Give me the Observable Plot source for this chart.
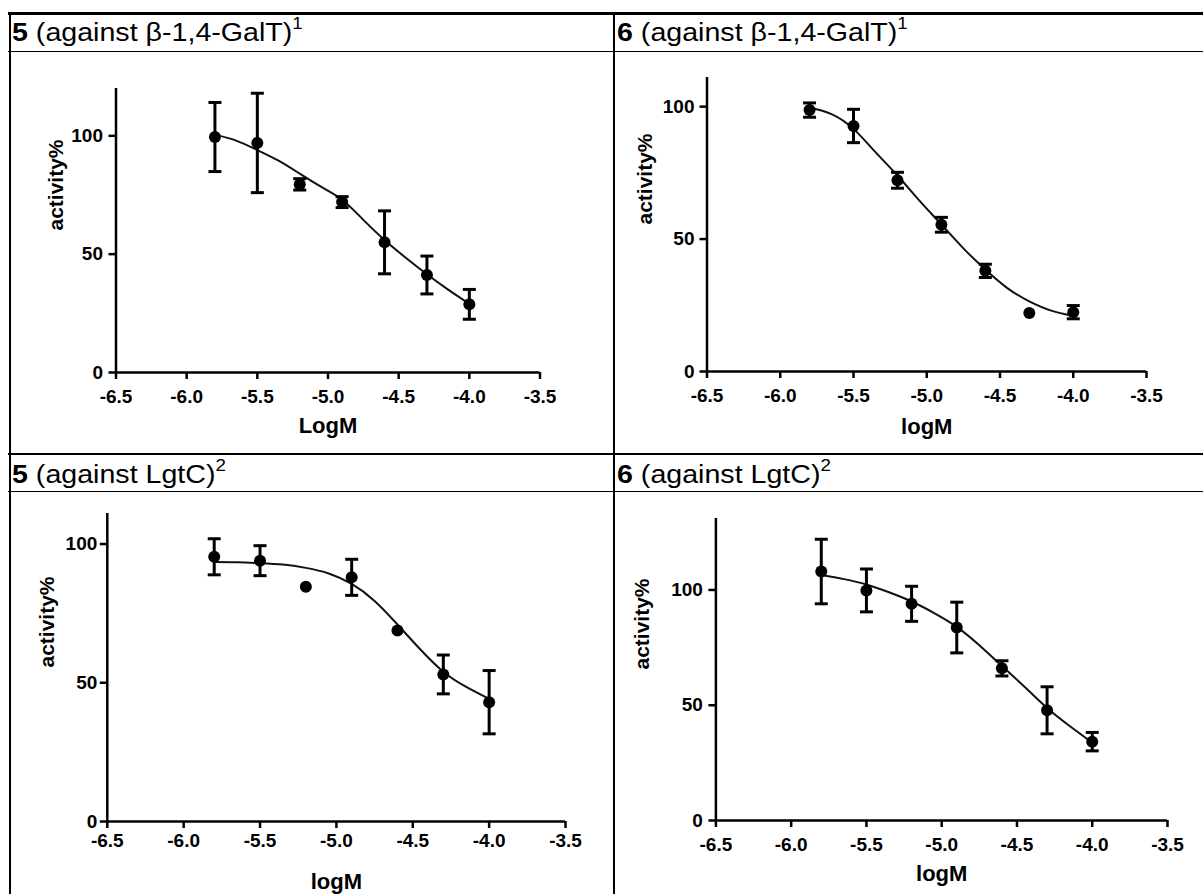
<!DOCTYPE html>
<html><head><meta charset="utf-8">
<script src="https://cdn.jsdelivr.net/npm/d3@7"></script>
<script src="https://cdn.jsdelivr.net/npm/@observablehq/plot@0.6"></script>
<style>
html,body{margin:0;padding:0;background:#fff;}
#page{position:relative;width:1203px;height:894px;overflow:hidden;background:#fff;font-family:"Liberation Sans",Arial,sans-serif;color:#000;}
.ln{position:absolute;background:#000;}
.title{position:absolute;font-size:26px;line-height:26px;white-space:nowrap;transform:scaleX(1.1);transform-origin:0 0;}
.title b{font-weight:bold;}
.title sup{font-size:17px;line-height:0;vertical-align:baseline;position:relative;top:-12px;}
.chart{position:absolute;}
</style></head><body><div id="page"></div>
<script>
// ---- data ----
const xTicks = [-6.5, -6.0, -5.5, -5.0, -4.5, -4.0, -3.5];
const yTicks = [0, 50, 100];
const logM = [-5.8, -5.5, -5.2, -4.9, -4.6, -4.3, -4.0];
const fitLogM = [-5.8, -5.65, -5.5, -5.35, -5.2, -5.05, -4.9, -4.75, -4.6, -4.45, -4.3, -4.15, -4.0];

const mean5GalT = [99.5, 97, 79.5, 72, 55, 41.2, 28.8];
const sd5GalT   = [14.6, 21, 2.4, 2.3, 13.3, 8, 6.3];
const fit5GalT  = [100.5, 98, 94, 89.5, 84, 78.5, 73, 64.5, 56, 48.5, 41.5, 35, 29];

const mean6GalT = [98.7, 92.7, 72.2, 55.4, 38, 22.1, 22.4];
const sd6GalT   = [2.7, 6.3, 3, 2.8, 2.5, 0, 2.5];
const fit6GalT  = [99.7, 97.2, 91.6, 82.8, 74, 64.5, 55.5, 46.5, 38.5, 31.5, 26.5, 23, 21];

const mean5LgtC = [95.4, 94, 84.6, 88, 68.8, 53, 43];
const sd5LgtC   = [6.5, 5.4, 0, 6.5, 0, 7, 11.4];
const fit5LgtC  = [93.5, 93.4, 93.1, 92.6, 91.4, 89.4, 85.6, 79.5, 71, 62, 54, 48.5, 44.2];

const mean6LgtC = [108, 99.8, 94, 83.7, 66, 47.8, 34.2];
const sd6LgtC   = [14, 9.3, 7.6, 11, 3.3, 10.2, 4];
const fit6LgtC  = [106.5, 104.7, 102.4, 99, 95, 90, 84, 76, 67, 58, 48.8, 41, 33.7];

const compounds = ["5", "6", "5", "6"];
const targets = ["β-1,4-GalT", "β-1,4-GalT", "LgtC", "LgtC"];
const refs = ["1", "1", "2", "2"];
const xLabels = ["LogM", "logM", "logM", "logM"];
const yLabel = "activity%";
const means = [mean5GalT, mean6GalT, mean5LgtC, mean6LgtC];
const sds = [sd5GalT, sd6GalT, sd5LgtC, sd6LgtC];
const fits = [fit5GalT, fit6GalT, fit5LgtC, fit6LgtC];

// ---- layout ----
const layout = [
  {left: 8,   top: 52,  width: 604, height: 400, mL: 107.5, mR: 72.5, mT: 36, mB: 80, yMax: 120, xPad: 10, yPad: 6,   xlabDy: 45, ylabDx: -59.5, tLeft: 12,  tTop: 19},
  {left: 614, top: 52,  width: 589, height: 400, mL: 92.5,  mR: 57,   mT: 25, mB: 81, yMax: 111, xPad: 10, yPad: 5.5, xlabDy: 47, ylabDx: -61.5, tLeft: 617, tTop: 19},
  {left: 8,   top: 492, width: 606, height: 402, mL: 98.8,  mR: 49,   mT: 21, mB: 73, yMax: 111, xPad: 5,  yPad: 3,   xlabDy: 52, ylabDx: -60.4, tLeft: 12,  tTop: 461},
  {left: 614, top: 492, width: 589, height: 402, mL: 101.4, mR: 36,   mT: 26, mB: 74, yMax: 131, xPad: 10, yPad: 6,   xlabDy: 45, ylabDx: -73.4, tLeft: 617, tTop: 461}
];

const page = document.getElementById("page");
function line(l, t, w, h) {
  const d = document.createElement("div");
  d.className = "ln";
  Object.assign(d.style, {left: l + "px", top: t + "px", width: w + "px", height: h + "px"});
  page.appendChild(d);
}
line(8, 12, 1195, 2.5);     // top border
line(8.5, 12, 2.5, 882);    // left border
line(612.5, 12, 2.2, 882);  // middle
line(8, 50.5, 1195, 1.5);   // header 1
line(8, 452.5, 1195, 2);    // row divider
line(8, 490.7, 1195, 1.5);  // header 2

const capSymbol = {draw(ctx) { ctx.moveTo(-6.5, 0); ctx.lineTo(6.5, 0); }};

layout.forEach((L, k) => {
  const t = document.createElement("div");
  t.className = "title";
  t.style.left = L.tLeft + "px";
  t.style.top = L.tTop + "px";
  t.innerHTML = `<b>${compounds[k]}</b> (against ${targets[k]})<sup>${refs[k]}</sup>`;
  page.appendChild(t);

  const pts = logM.map((x, i) => ({x, y: means[k][i], sd: sds[k][i]}));
  const bars = pts.filter(d => d.sd > 0);
  const caps = bars.flatMap(d => [{x: d.x, y: d.y + d.sd}, {x: d.x, y: d.y - d.sd}]);
  const fit = fitLogM.map((x, i) => ({x, y: fits[k][i]}));

  const chart = Plot.plot({
    width: L.width, height: L.height,
    marginLeft: L.mL, marginRight: L.mR, marginTop: L.mT, marginBottom: L.mB,
    x: {domain: [-6.5, -3.5]},
    y: {domain: [0, L.yMax]},
    style: 'font-family: "Liberation Sans", Arial, sans-serif; font-size: 19px; font-weight: bold; color: #000; background: transparent; overflow: visible;',
    marks: [
      Plot.axisX({ticks: xTicks, tickFormat: d => d.toFixed(1), tickSize: 7, tickPadding: L.xPad, strokeWidth: 2.5, label: null, fontSize: 19}),
      Plot.axisY({ticks: yTicks, tickFormat: d => String(d), tickSize: 7, tickPadding: L.yPad, strokeWidth: 2.5, label: null, fontSize: 19}),
      Plot.ruleY([0], {stroke: "#000", strokeWidth: 2.5}),
      Plot.ruleX([-6.5], {stroke: "#000", strokeWidth: 2.5}),
      Plot.line(fit, {x: "x", y: "y", curve: "natural", stroke: "#111", strokeWidth: 2}),
      Plot.ruleX(bars, {x: "x", y1: d => d.y - d.sd, y2: d => d.y + d.sd, stroke: "#000", strokeWidth: 3}),
      Plot.dot(caps, {x: "x", y: "y", symbol: capSymbol, fill: "none", stroke: "#000", strokeWidth: 3}),
      Plot.dot(pts, {x: "x", y: "y", r: 6, fill: "#000", stroke: "none"}),
      Plot.text([xLabels[k]], {frameAnchor: "bottom", lineAnchor: "top", dy: L.xlabDy, fontSize: 22, fontWeight: "bold", fill: "#000"}),
      Plot.text([yLabel], {frameAnchor: "left", dx: L.ylabDx, rotate: -90, fontSize: 21, fontWeight: "bold", fill: "#000"})
    ]
  });
  const wrap = document.createElement("div");
  wrap.className = "chart";
  wrap.style.left = L.left + "px";
  wrap.style.top = L.top + "px";
  wrap.appendChild(chart);
  page.appendChild(wrap);
});
</script>
</body></html>
